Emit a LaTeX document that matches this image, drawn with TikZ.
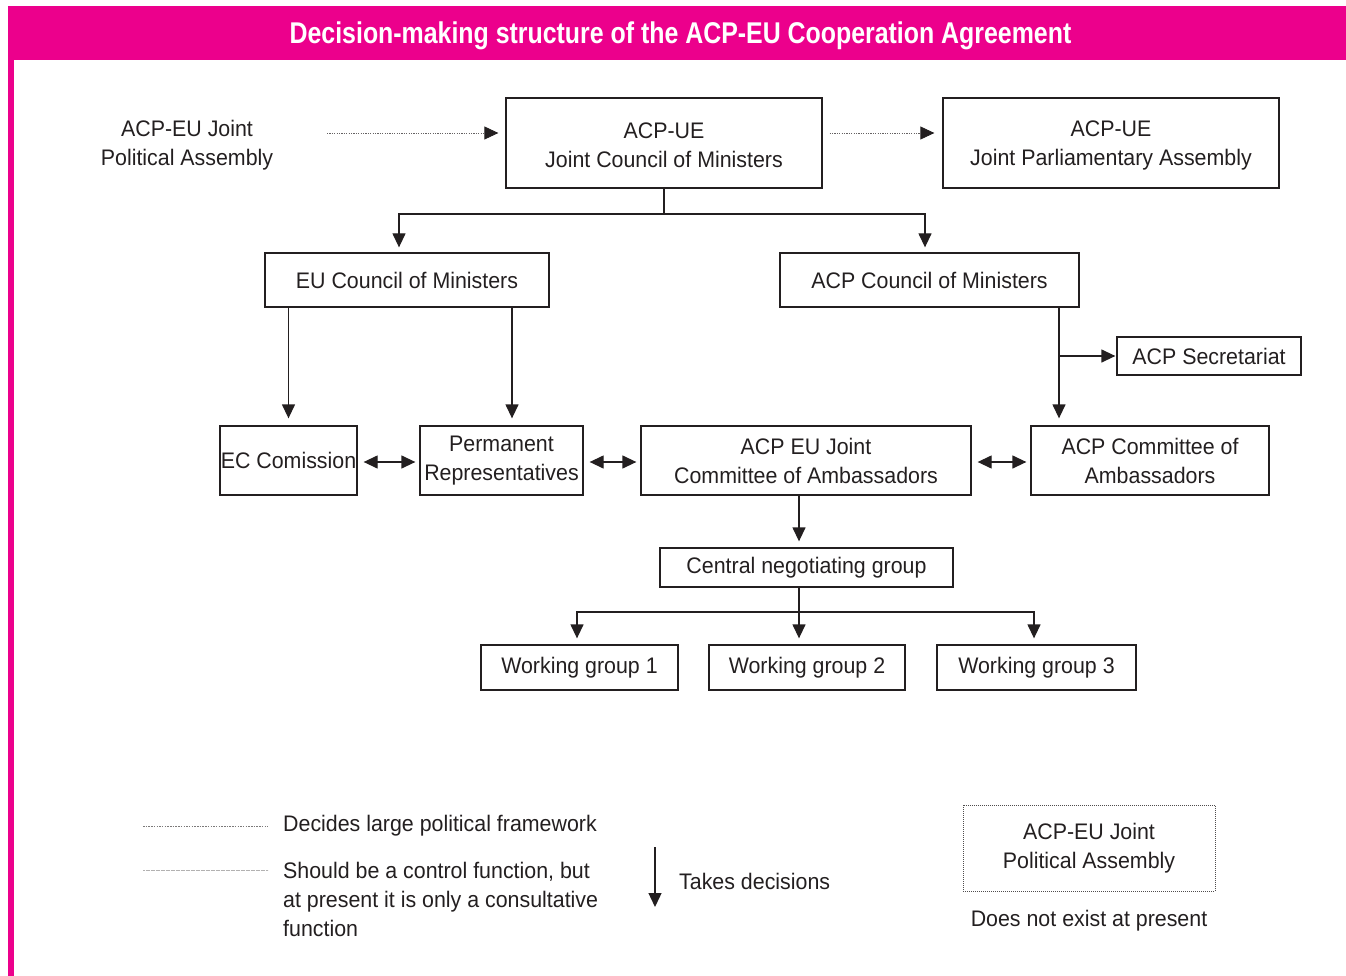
\documentclass[tikz,border=0pt]{standalone}
\usepackage{fontspec}
\setmainfont[FakeStretch=0.95]{Liberation Sans}
\newfontfamily\titlefont[FakeStretch=0.83]{Liberation Sans}
\usetikzlibrary{arrows.meta,calc}
\definecolor{pinkbar}{RGB}{236,0,140}
\definecolor{ink}{RGB}{35,31,32}
\begin{document}
\begin{tikzpicture}[x=1pt,y=-1pt,
  every node/.style={text=ink,font=\fontsize{22.5}{29}\selectfont,inner sep=0pt,align=center},
  box/.style={draw=ink,line width=1.3pt},
  arr/.style={draw=ink,line width=1.3pt,-{Triangle[length=14pt,width=13pt]}},
  darr/.style={draw=ink,line width=1.3pt,{Triangle[length=14pt,width=13pt]}-{Triangle[length=14pt,width=13pt]}},
  plain/.style={draw=ink,line width=1.3pt},
  dotarr/.style={draw=ink!70,line width=0.8pt,dash pattern=on 1.2pt off 1.2pt,-{Triangle[length=14pt,width=13pt,color=ink]}},
  dotline/.style={draw=ink!60,line width=0.8pt,dash pattern=on 1.5pt off 1.2pt},
  greyline/.style={draw=ink!35,line width=0.8pt,dash pattern=on 2pt off 0.5pt},
  legtext/.style={anchor=west,align=left}]
\useasboundingbox (0,0) rectangle (1346,976);
% frame
\fill[pinkbar] (8,6) rectangle (1346,60);
\fill[pinkbar] (8,6) rectangle (14,976);
\node[text=white,font=\titlefont\bfseries\fontsize{30}{34}\selectfont] (title) at (680.5,36) {Decision-making structure of the ACP-EU Cooperation Agreement};
% top row
\node (jpol) at (187,145) {ACP-EU Joint\\Political Assembly};
\node[box,minimum width=316pt,minimum height=90pt] (jcm) at (664,143) {\strut ACP-UE\\Joint Council of Ministers};
\node[box,minimum width=336pt,minimum height=90pt] (jpa) at (1111,143) {\strut ACP-UE\\Joint Parliamentary Assembly};
% councils
\node[box,minimum width=284pt,minimum height=54pt] (euc) at (407,280) {EU Council of Ministers};
\node[box,minimum width=299pt,minimum height=54pt] (acpc) at (929.5,280) {ACP Council of Ministers};
\node[box,minimum width=184pt,minimum height=38pt] (sec) at (1209,356) {ACP Secretariat};
% committees
\node[box,minimum width=137pt,minimum height=69pt] (ecc) at (288.5,460.5) {EC Comission};
\node[box,minimum width=163pt,minimum height=69pt] (perm) at (501.5,460.5) {\fontsize{22.5}{24}\selectfont Permanent\\Representatives};
\node[box,minimum width=330pt,minimum height=69pt] (jca) at (806,460.5) {ACP EU Joint\\Committee of Ambassadors};
\node[box,minimum width=238pt,minimum height=69pt] (acpa) at (1150,460.5) {ACP Committee of\\Ambassadors};
% negotiating
\node[box,minimum width=293pt,minimum height=39pt] (cng) at (806.5,567.5) {Central negotiating group};
\node[box,minimum width=197pt,minimum height=45pt] (wg1) at (579.5,667.5) {Working group 1};
\node[box,minimum width=196pt,minimum height=45pt] (wg2) at (807,667.5) {Working group 2};
\node[box,minimum width=199pt,minimum height=45pt] (wg3) at (1036.5,667.5) {Working group 3};
% connectors
\coordinate (jpolE) at (327,133);
\draw[dotarr,shorten >=7pt] (jpolE) -- (jcm.west |- jpolE);
\draw[dotarr,shorten <=7pt,shorten >=8pt] (jcm.east |- jpolE) -- (jpa.west |- jpolE);
\coordinate (split1) at (664,214);
\draw[plain] (jcm.south) -- (split1);
\draw[arr,shorten >=5pt] (split1) -| ([xshift=-8pt]euc.north);
\draw[arr,shorten >=5pt] (split1) -| ([xshift=-4.5pt]acpc.north);
\draw[arr,shorten >=7pt] (euc.south -| ecc.north) -- (ecc.north);
\draw[arr,shorten >=7pt] (euc.south -| 512,0) -- ([xshift=10.5pt]perm.north);
\draw[arr,shorten >=7pt] (acpc.south -| 1059,0) -- (acpa.north -| 1059,0);
\coordinate (secbr) at (1059,356);
\draw[arr,shorten >=1pt] (secbr) -- (sec.west);
\draw[darr,shorten <=6pt,shorten >=4pt] (ecc.east |- 0,462) -- (perm.west |- 0,462);
\draw[darr,shorten <=6pt,shorten >=4pt] (perm.east |- 0,462) -- (jca.west |- 0,462);
\draw[darr,shorten <=6pt,shorten >=4pt] (jca.east |- 0,462) -- (acpa.west |- 0,462);
\draw[arr,shorten >=6pt] (jca.south -| 799,0) -- (cng.north -| 799,0);
\coordinate (split2) at (799,612);
\draw[plain] (cng.south -| split2) -- (split2);
\draw[arr,shorten >=6pt] (split2) -| ([xshift=-2.5pt]wg1.north);
\draw[arr,shorten >=6pt] (split2) -- (wg2.north -| split2);
\draw[arr,shorten >=6pt] (split2) -| ([xshift=-2.5pt]wg3.north);
% legend
\coordinate (l1a) at (143,826); \coordinate (l1b) at (268,826);
\draw[dotline] (l1a) -- (l1b);
\node[legtext] (lt1) at (283,826) {Decides large political framework};
\coordinate (l2a) at (143,870); \coordinate (l2b) at (268,870);
\draw[greyline] (l2a) -- (l2b);
\node[legtext,anchor=north west] (lt2) at (283,862) {Should be a control function, but\\at present it is only a consultative\\function};
\coordinate (l3a) at (655,847); \coordinate (l3b) at (655,907);
\draw[arr] (l3a) -- (l3b);
\node[legtext] (lt3) at (679,881) {Takes decisions};
\node[draw=ink!80,line width=0.9pt,dash pattern=on 1pt off 1pt,minimum width=252pt,minimum height=86pt] (lbox) at (1089,848) {ACP-EU Joint\\Political Assembly};
\node (lt4) at (1089,921) {Does not exist at present};
\end{tikzpicture}
\end{document}
